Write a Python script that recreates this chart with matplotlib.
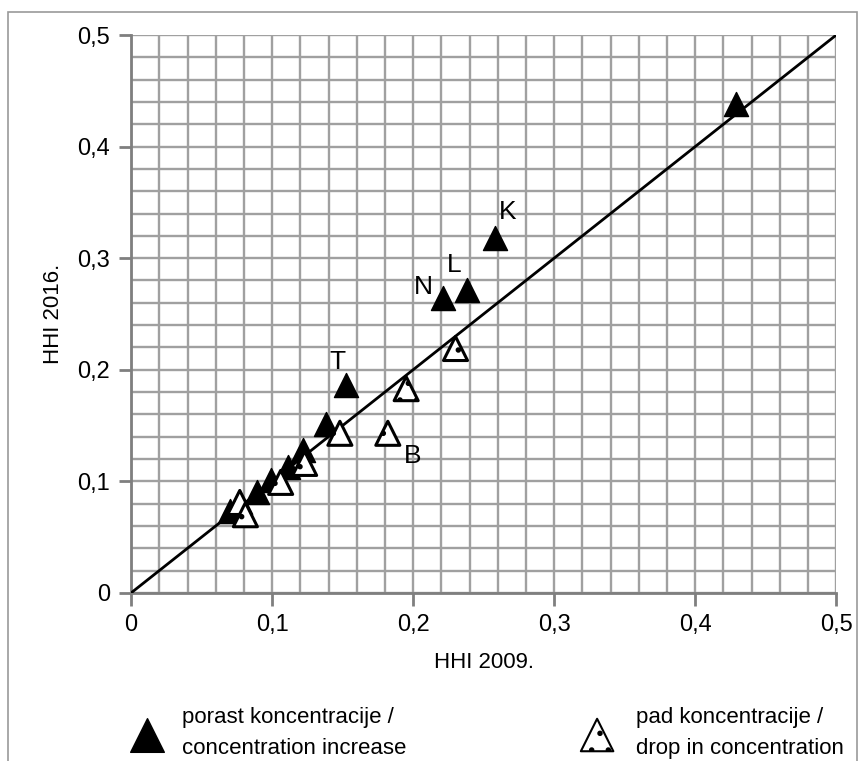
import numpy as np
import matplotlib
matplotlib.use('Agg')
from matplotlib import pyplot as plt
from matplotlib.patches import Rectangle

# HHI 2009 / HHI 2016 - concentration increase (filled)
inc_x = [0.070, 0.089, 0.099, 0.111, 0.122, 0.138, 0.152, 0.221, 0.238, 0.258, 0.429]
inc_y = [0.073, 0.090, 0.101, 0.113, 0.128, 0.151, 0.186, 0.264, 0.271, 0.318, 0.438]
inc_labels = {6: 'T', 7: 'N', 8: 'L', 9: 'K'}

# concentration drop (open, dotted)
dec_x = [0.077, 0.081, 0.106, 0.123, 0.148, 0.182, 0.195, 0.230]
dec_y = [0.081, 0.070, 0.099, 0.116, 0.143, 0.143, 0.183, 0.219]
dec_labels = {5: 'B'}

label_offsets = {'K': (9, 19), 'L': (-9, 18), 'N': (-14, 8), 'T': (-6, 17), 'B': (18, -16)}

ticks = [0, 0.1, 0.2, 0.3, 0.4, 0.5]
tick_labels = ['0', '0,1', '0,2', '0,3', '0,4', '0,5']

plt.rcParams['font.family'] = ['Liberation Sans', 'DejaVu Sans']
plt.rcParams['hatch.linewidth'] = 1.5

fig = plt.figure(figsize=(8.63, 7.61), dpi=100)
ax = fig.add_axes([0.152, 0.221, 0.817, 0.733])

fig.add_artist(Rectangle((8 / 863, -0.01), 849 / 863, 1 - 12 / 761 + 0.01, transform=fig.transFigure,
                         fill=False, edgecolor='#9a9a9a', lw=1.2))

ax.set_xlim(0, 0.5)
ax.set_ylim(0, 0.5)
ax.set_xticks(ticks)
ax.set_yticks(ticks)
ax.set_xticklabels(tick_labels)
ax.set_yticklabels(tick_labels)
ax.set_xticks(np.arange(0, 0.51, 0.02), minor=True)
ax.set_yticks(np.arange(0, 0.51, 0.02), minor=True)
ax.tick_params(which='minor', length=0)
ax.tick_params(which='major', length=9, width=2, color='#7f7f7f', labelsize=17, pad=6)
ax.grid(which='both', color='#a0a0a0', lw=1.7)
ax.set_axisbelow(True)
for s in ['top', 'right']:
    ax.spines[s].set_visible(False)
for s in ['left', 'bottom']:
    ax.spines[s].set_color('#7f7f7f')
    ax.spines[s].set_linewidth(2)

ax.plot([0, 0.5], [0, 0.5], color='black', lw=2, zorder=3)

sc_inc = ax.scatter(inc_x, inc_y, marker='^', s=300, color='black', zorder=4)
sc_dec = ax.scatter(dec_x, dec_y, marker='^', s=300, facecolor='white', edgecolor='black',
                    linewidths=2.2, hatch='.', zorder=4)

for i, lab in inc_labels.items():
    ax.annotate(lab, (inc_x[i], inc_y[i]), xytext=label_offsets[lab], textcoords='offset points',
                ha='center', va='center', fontsize=19)
for i, lab in dec_labels.items():
    ax.annotate(lab, (dec_x[i], dec_y[i]), xytext=label_offsets[lab], textcoords='offset points',
                ha='center', va='center', fontsize=19)

ax.set_xlabel('HHI 2009.', fontsize=16, labelpad=12)
ax.set_ylabel('HHI 2016.', fontsize=16, labelpad=10)

leg1 = fig.legend([sc_inc], ['porast koncentracije /\nconcentration increase'], loc='center left',
                  bbox_to_anchor=(0.128, 0.037), frameon=False, fontsize=16, handletextpad=0.8,
                  handlelength=1.5, markerscale=1.4, scatterpoints=1)
leg2 = fig.legend([sc_dec], ['pad koncentracije /\ndrop in concentration'], loc='center right',
                  bbox_to_anchor=(1.001, 0.037), frameon=False, fontsize=16, handletextpad=1.0,
                  handlelength=1.5, markerscale=1.35, scatterpoints=1)
for leg in (leg1, leg2):
    for t in leg.get_texts():
        t.set_linespacing(1.6)
for h in leg2.legend_handles:
    h.set_linewidth(1.5)

fig.savefig('out.png', dpi=100)
